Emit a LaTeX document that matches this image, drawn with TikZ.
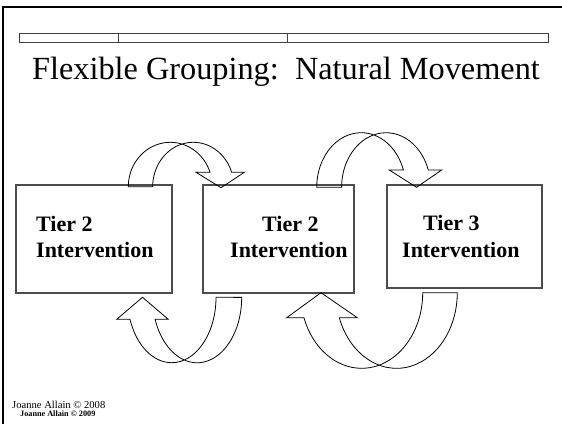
\documentclass[tikz,border=0pt]{standalone}
\usepackage{fontspec}
\setmainfont{Liberation Serif}
\begin{document}
\begin{tikzpicture}[x=1pt,y=-1pt,
  tierbox/.style={draw=black!70,line width=1.1pt,fill=none,inner sep=0pt,
    minimum width=#1},
  tierlabel/.style={anchor=base west,inner sep=0pt,font=\fontsize{22}{26}\selectfont\bfseries},
  uturn/.style={draw=black,line width=0.8pt,line join=miter},
  barline/.style={draw=black!75,line width=0.9pt}]
\useasboundingbox[fill=white] (0,0) rectangle (562,424);

% slide frame (top and left edges)
\draw[line width=2pt] (2.7,424) -- (2.7,6.5) -- (562,6.5);

% header bar with two dividers
\draw[barline] (19,33.5) rectangle (548,42.5);
\draw[barline] (118,33.5) -- (118,42.5);
\draw[barline] (287,33.5) -- (287,42.5);

% title
\node[anchor=base,inner sep=0pt,font=\fontsize{32.3}{38}\selectfont] (title)
  at (286,79) {Flexible Grouping:\ \ Natural Movement};

% the three intervention boxes
\node[tierbox=156pt,minimum height=108pt] (b1) at (94,239) {};
\node[tierbox=151pt,minimum height=108pt] (b2) at (278.5,239) {};
\node[tierbox=155pt,minimum height=103pt] (b3) at (464.5,236.5) {};

\node[tierlabel] (t1a) at (36,231) {Tier 2};
\node[tierlabel] (t1b) at (36,257) {Intervention};
\node[tierlabel] (t2a) at (262,231) {Tier 2};
\node[tierlabel] (t2b) at (230,257) {Intervention};
\node[tierlabel] (t3a) at (423,230) {Tier 3};
\node[tierlabel] (t3b) at (402,257) {Intervention};

% curved arrow over boxes 1 -> 2
\draw[uturn] (128.3,186.7) arc[start angle=180,end angle=341.1,x radius=42,y radius=44.4]
  -- (196,172.3) -- (221,187.7) -- (244.3,172.3) -- (231.7,172.3)
  arc[start angle=341.1,end angle=180,x radius=40.6,y radius=44.4] -- cycle;

% curved arrow over boxes 2 -> 3
\draw[uturn] (316.7,187.3) arc[start angle=180,end angle=341.5,x radius=44.5,y radius=54.6]
  -- (389.3,170) -- (416.5,187.3) -- (441.7,170) -- (428.3,170)
  arc[start angle=341.5,end angle=180,x radius=44.5,y radius=54.6] -- cycle;

% curved arrow under boxes 2 -> 1
\draw[uturn] (216,297.3) arc[start angle=0,end angle=160.4,x radius=44.3,y radius=65.4]
  -- (116.7,319.3) -- (142.5,297.3) -- (168.3,319.3) -- (155.1,319.3)
  arc[start angle=160.4,end angle=0,x radius=44.6,y radius=65.4] -- cycle;

% curved arrow under boxes 3 -> 2
\draw[uturn] (422.7,292.7) arc[start angle=0,end angle=160.7,x radius=61.1,y radius=75.6]
  -- (286.7,317.7) -- (321,292.7) -- (357.3,317.7) -- (339.3,317.7)
  arc[start angle=160.7,end angle=0,x radius=60.7,y radius=75.6] -- cycle;

% footer credits
\node[anchor=base west,inner sep=0pt,font=\fontsize{10.6}{12}\selectfont] (c1)
  at (12,408) {Joanne Allain © 2008};
\node[anchor=base west,inner sep=0pt,font=\fontsize{8.2}{10}\selectfont\bfseries] (c2)
  at (20,416.5) {Joanne Allain © 2009};
\end{tikzpicture}
\end{document}
